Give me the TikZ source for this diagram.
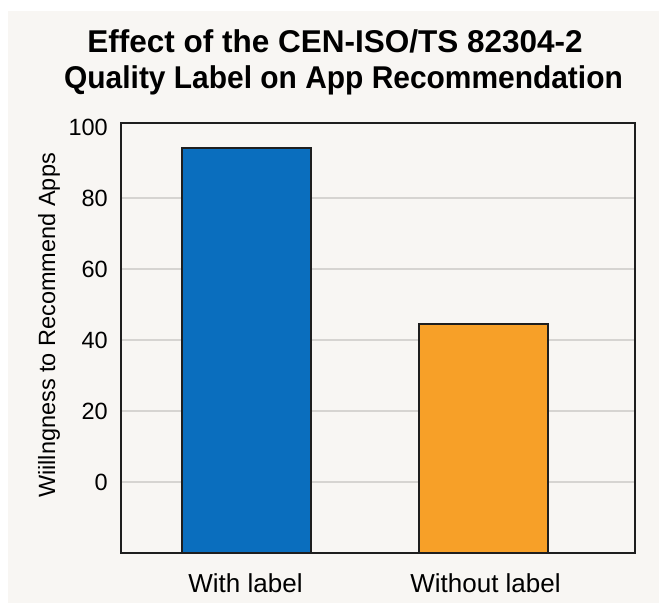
\documentclass[tikz,border=0pt]{standalone}
\usepackage{fontspec}
\setmainfont{Liberation Sans}
\definecolor{bgcol}{RGB}{248,246,243}
\definecolor{gridcol}{RGB}{214,212,209}
\definecolor{framecol}{RGB}{30,30,30}
\definecolor{bluebar}{RGB}{10,110,190}
\definecolor{orangebar}{RGB}{247,160,40}
\begin{document}
\begin{tikzpicture}[x=1pt,y=-1pt,
  titletext/.style={font=\bfseries\fontsize{31.5}{36}\selectfont, anchor=base, inner sep=0pt},
  ticktext/.style={font=\fontsize{23.5}{28}\selectfont, anchor=base east, inner sep=0pt},
  cattext/.style={font=\fontsize{26}{31}\selectfont, anchor=base, inner sep=0pt},
  gridline/.style={draw=gridcol, line width=1.2pt},
  barbox/.style={draw=framecol, line width=1.8pt},
  framebox/.style={draw=framecol, line width=1.8pt}]
\useasboundingbox (0,0) rectangle (659,603);
\fill[white] (0,0) rectangle (659,603);
\fill[bgcol] (8,11) rectangle (659,603);
% title
\node[titletext] (title1) at (335,52) {Effect of the CEN-ISO/TS 82304-2};
\node[titletext] (title2) at (343.5,88) {\scalebox{0.95}[1]{Quality Label on App Recommendation}};
% grid lines
\foreach \yy in {198,269,340,411,482}
  \draw[gridline] (122,\yy) -- (634,\yy);
% tick labels
\node[ticktext] (t100) at (108,135.4) {100};
\node[ticktext] (t80)  at (108,206.4) {80};
\node[ticktext] (t60)  at (108,277.4) {60};
\node[ticktext] (t40)  at (108,348.4) {40};
\node[ticktext] (t20)  at (108,419.4) {20};
\node[ticktext] (t0)   at (108,490.4) {0};
% axis label
\node[font=\fontsize{23.5}{28}\selectfont, rotate=90, anchor=base, inner sep=0pt] (ylab) at (55,325.5) {Wiillngness to Recommend Apps};
% bars
\draw[barbox, fill=bluebar] (182,148) rectangle (311,553);
\draw[barbox, fill=orangebar] (419,324) rectangle (548,553);
% frame
\draw[framebox] (121,123) rectangle (635,553);
% category labels
\node[cattext] (c1) at (245.5,592) {With label};
\node[cattext] (c2) at (485.5,592) {Without label};
\end{tikzpicture}
\end{document}
